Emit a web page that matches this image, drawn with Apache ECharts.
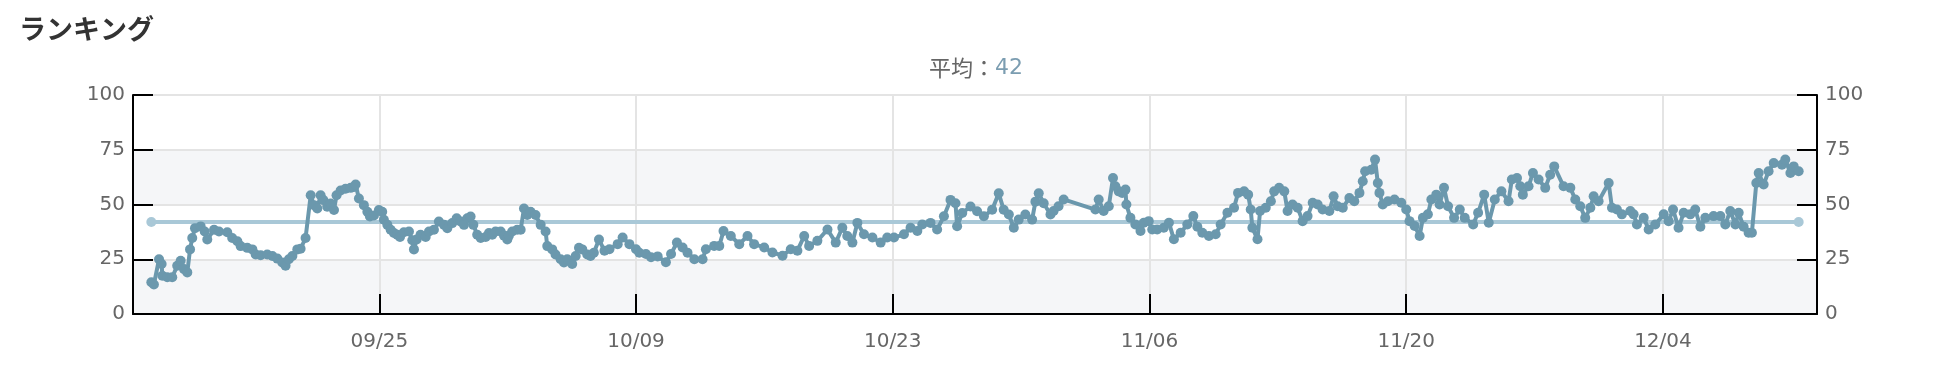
<!DOCTYPE html>
<html>
<head>
<meta charset="utf-8">
<script src="https://cdn.jsdelivr.net/npm/echarts@6/dist/echarts.min.js"></script>
<style>
html,body{margin:0;padding:0;background:#fff;}
#chart{width:1952px;height:366px;}
</style>
</head>
<body>
<div id="chart"></div>
<script>
// ---- data ----
const chartTitle = 'ランキング';
const averageLabel = '平均：';
const averageValue = 42;
const baseDate = [2023, 8, 11]; // 2023-09-11 (day 0)
// sample times, in days after baseDate
const sampleDays = [
  1.57,1.71,1.99,2.13,2.17,2.44,2.71,2.98,3.17,3.35,3.53,3.68,3.80,3.95,4.26,4.48,4.62,4.99,5.26,5.71,
  5.98,6.26,6.44,6.80,7.08,7.26,7.53,7.89,8.17,8.44,8.71,8.89,9.07,9.26,9.53,9.71,9.98,10.26,10.44,10.62,
  10.80,10.95,11.16,11.35,11.53,11.67,11.89,12.16,12.44,12.62,12.71,12.89,13.16,13.35,13.49,13.71,13.98,14.16,14.25,14.44,
  14.62,14.80,14.98,15.13,15.34,15.62,15.80,15.89,16.04,16.25,16.53,16.71,16.98,17.25,17.53,17.71,17.98,18.22,18.43,18.62,
  18.80,18.98,19.13,19.34,19.53,19.80,19.98,20.16,20.34,20.62,20.80,20.98,21.07,21.25,21.52,21.71,21.89,22.07,22.25,22.52,
  22.80,23.07,23.16,23.43,23.61,23.89,24.07,24.25,24.52,24.71,24.89,25.07,25.34,25.52,25.70,25.98,
  26.28,26.55,27.00,27.27,27.64,28.00,28.18,28.54,28.82,29.18,29.63,29.91,30.23,30.54,30.81,31.18,31.63,31.81,32.26,32.54,
  32.77,33.17,33.63,34.08,34.44,34.99,35.44,35.99,36.44,36.80,37.17,37.44,37.89,38.44,38.89,39.25,39.52,39.80,40.07,40.43,
  40.89,41.34,41.70,42.07,42.61,42.97,43.34,43.61,44.06,44.42,44.79,45.15,45.42,45.51,45.79,46.24,46.60,46.97,47.42,47.78,
  48.05,48.33,48.60,48.87,49.23,49.60,49.78,49.96,50.23,50.60,
  50.77,51.04,51.32,53.05,53.23,53.50,53.78,54.01,54.14,54.32,54.51,54.69,54.74,54.96,55.23,55.51,55.69,55.96,56.15,56.42,
  56.78,57.06,57.33,57.70,58.06,58.39,58.61,58.88,59.24,59.61,59.88,60.25,60.61,60.83,61.16,61.38,61.52,61.61,61.89,62.03,
  62.34,62.62,62.80,63.07,63.35,63.53,63.80,64.08,64.35,64.62,64.90,65.17,65.44,65.81,66.04,66.26,66.54,66.90,67.17,67.45,
  67.63,67.76,68.09,68.30,68.45,68.54,68.72,69.00,69.36,69.73,70.00,70.18,70.46,70.73,70.91,71.18,71.37,71.64,71.82,72.06,
  72.28,72.61,72.92,73.19,73.65,73.92,74.25,74.50,74.83,75.19,
  75.58,75.76,76.04,76.22,76.36,76.67,76.91,77.22,77.58,77.85,78.07,78.58,78.95,79.22,79.49,79.76,80.04,80.22,80.49,81.04,
  81.22,81.49,81.76,82.22,82.40,82.58,82.95,83.22,83.58,84.04,84.31,84.55,84.85,85.13,85.49,85.76,86.04,86.31,86.76,87.13,
  87.40,87.67,87.95,88.13,88.40,88.67,88.85,89.09,89.22,89.49,89.76,90.04,90.49,90.67,90.95,91.13,91.40
];
const rankValues = [
  14.5,13.5,25,22.8,17.5,16.8,16.8,22,24.3,20.5,19,29.5,34.7,39.2,40,37.7,34,38.5,37.7,37.3,
  34.7,33.2,31,30.2,29.5,27.2,26.8,27.2,26.5,25.3,23.5,22,25,26.5,29.5,29.8,34.7,54.2,49.7,48.2,
  54.2,52,49,50.4,47.5,54.2,56.4,57.2,57.6,58,59.1,52.7,49.7,46.7,44.5,45,47.5,46.7,43,40.7,
  38.5,37,36.2,35.2,37.3,37.7,33.7,29.5,34,36.2,35.2,37.7,38.5,42.2,40.7,39.2,41.5,43.7,42.2,40.7,
  43.7,44.5,40.7,36.2,34.7,35.2,37,36.2,37.7,37.7,35.8,34,35.8,37.7,38.5,38.5,48.2,45.2,46.7,45.2,
  40.7,37.7,31,29.5,27.2,25,23.5,25,22.8,26.5,30.2,29.5,27.2,26.5,28,34,
  28.9,29.6,31.9,34.9,31.9,29.6,28,27.4,25.9,26.3,23.6,27.4,32.6,30.4,28,25,25,29.6,31.1,31.1,
  37.9,35.6,31.9,35.6,31.9,30.4,28.1,26.6,29.6,28.9,35.6,31.1,33.4,38.6,32.6,39.4,35.6,32.6,41.6,36.4,
  34.9,32.6,34.9,34.9,36.4,39.4,37.9,40.9,41.6,38.6,44.6,52.1,50.6,40.1,46.1,49.1,46.9,44.6,47.6,55.1,
  47.6,45.4,39.4,43.1,45.4,43.1,51.3,55.1,50.6,45.4,
  47,49.2,52.3,47.7,52.3,47,49.2,62.1,58.3,56,55.3,56.8,50,43.9,40.9,37.9,41.7,42.4,38.6,38.6,
  39.4,41.7,34.1,37.1,40.9,44.7,39.8,37.1,35.6,36.4,40.9,46.2,48.5,55.3,56,54.5,47.7,39.4,34.1,47,
  48.5,51.5,56,57.6,56,47,50,48.5,42.4,44.7,50.8,50,47.7,47,53.8,49.2,48.5,53,51.5,55.3,
  60.6,65.2,65.9,70.5,59.8,55.3,50,51.5,52.3,50.8,47.7,42.4,40.2,35.6,43.9,45.5,52.3,54.5,50,57.6,
  49.2,43.9,47.7,43.9,40.9,46.2,54.5,41.7,52.3,56,
  51.5,61.4,62.1,58.3,54.5,58.3,64.4,61.4,57.6,63.6,67.4,58.3,57.6,52.3,49.2,43.9,48.5,53.8,51.5,59.8,
  48.5,47.7,45.5,47,45.5,40.9,43.9,38.6,40.9,45.5,42.4,47.7,39.4,46.2,45.5,47.7,39.8,43.9,44.7,44.7,
  40.9,47,40.9,46.2,39.8,37.1,37.1,59.8,64.4,59.1,65.2,68.9,68.2,70.5,64.4,67.4,65.2
];
const tickDays = [14, 28, 42, 56, 70, 84];
const tickLabels = ['09/25', '10/09', '10/23', '11/06', '11/20', '12/04'];
const yTicks = [0, 25, 50, 75, 100];

// ---- build ----
const DAY = 86400000;
const base = Date.UTC(baseDate[0], baseDate[1], baseDate[2]);
const toTime = d => base + d * DAY;
const rankData = sampleDays.map((d, i) => [toTime(d), rankValues[i]]);
const firstT = rankData[0][0];
const lastT = rankData[rankData.length - 1][0];
const avgData = [[firstT, averageValue], [lastT, averageValue]];
const tickTimes = tickDays.map(toTime);

const mainColor = '#6b98ad';
const avgColor = '#a9c8d7';
const labelFont = 'DejaVu Sans, Verdana, sans-serif';

function yAxisCfg(pos) {
  return {
    type: 'value',
    position: pos,
    min: yTicks[0],
    max: yTicks[yTicks.length - 1],
    interval: yTicks[1] - yTicks[0],
    axisLine: {show: true, lineStyle: {color: '#000', width: 2}},
    axisTick: {show: true, inside: true, length: 20, lineStyle: {color: '#000', width: 2}},
    axisLabel: {color: '#666', fontSize: 20, fontFamily: labelFont, margin: 8},
    splitLine: {show: pos === 'left', lineStyle: {color: '#e4e4e4', width: 2}},
    splitArea: {show: pos === 'left', areaStyle: {color: ['#f5f6f8', '#ffffff']}}
  };
}

const chart = echarts.init(document.getElementById('chart'), null, {renderer: 'canvas'});
chart.setOption({
  animation: false,
  backgroundColor: '#fff',
  title: [
    {
      text: chartTitle, left: 14, top: 10,
      textStyle: {fontSize: 27, fontWeight: 'bold', color: '#333', fontFamily: 'Noto Sans CJK JP'}
    },
    {
      text: averageLabel + '{v|' + averageValue + '}', left: 'center', top: 52,
      textStyle: {
        fontSize: 22, fontWeight: 'normal', color: '#666', fontFamily: 'Noto Sans CJK JP',
        rich: {v: {fontSize: 22, color: '#7b9db1', fontFamily: labelFont}}
      }
    }
  ],
  grid: {left: 133, right: 135, top: 95, bottom: 52, containLabel: false},
  xAxis: {
    type: 'value',
    min: v => v.min - DAY,
    max: v => v.max + DAY,
    axisLine: {show: true, onZero: false, lineStyle: {color: '#000', width: 2}},
    axisTick: {show: true, inside: true, length: 20, customValues: tickTimes, lineStyle: {color: '#000', width: 2}},
    axisLabel: {
      customValues: tickTimes, color: '#666', fontSize: 20, fontFamily: labelFont, margin: 18,
      formatter: v => {
        const i = tickTimes.indexOf(v);
        return i >= 0 ? tickLabels[i] : '';
      }
    },
    splitLine: {show: true, lineStyle: {color: '#e4e4e4', width: 2}}
  },
  yAxis: [yAxisCfg('left'), yAxisCfg('right')],
  series: [
    {
      name: 'avg', type: 'line', data: avgData,
      symbol: 'circle', symbolSize: 10, z: 2,
      itemStyle: {color: avgColor},
      lineStyle: {color: avgColor, width: 4}
    },
    {
      name: 'rank', type: 'line', data: rankData,
      symbol: 'circle', symbolSize: 10, z: 3,
      itemStyle: {color: mainColor},
      lineStyle: {color: mainColor, width: 4}
    }
  ]
});
</script>
</body>
</html>
